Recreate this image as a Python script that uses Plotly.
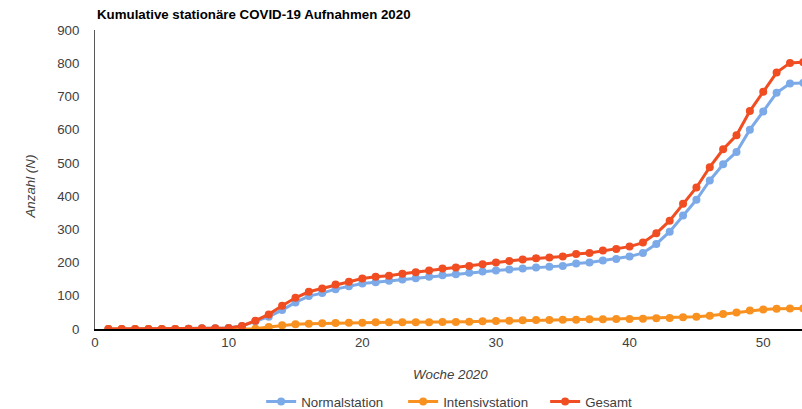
import plotly.graph_objects as go

weeks = list(range(1, 54))

normalstation = [0, 0, 0, 0, 0, 0, 1, 2, 2, 3,
                 9, 23, 37, 57, 80, 99, 108, 120, 129, 137,
                 141, 145, 149, 153, 157, 162, 165, 169, 173, 176,
                 179, 182, 185, 187, 190, 197, 200, 206, 211, 218,
                 229, 256, 293, 342, 389, 447, 496, 533, 600, 655,
                 711, 739, 741]

intensivstation = [0, 0, 0, 0, 0, 0, 0, 0, 0, 0,
                   0, 1, 6, 11, 14, 16, 17, 18, 19, 19,
                   20, 20, 20, 20, 20, 21, 21, 22, 23, 24,
                   25, 26, 27, 27, 28, 28, 29, 29, 30, 30,
                   31, 32, 33, 35, 37, 40, 45, 50, 56, 59,
                   61, 62, 62]

gesamt = [0, 0, 0, 0, 0, 0, 1, 2, 2, 3,
          9, 25, 44, 70, 94, 112, 122, 134, 142, 152,
          157, 160, 166, 171, 176, 182, 185, 190, 195, 200,
          205, 209, 213, 215, 218, 226, 229, 236, 241, 248,
          260, 288, 326, 377, 426, 487, 541, 583, 656, 714,
          772, 801, 803]

series = [
    ("Normalstation", normalstation, "#7caae8"),
    ("Intensivstation", intensivstation, "#f8911f"),
    ("Gesamt", gesamt, "#f04e22"),
]

x_ticks = [0, 10, 20, 30, 40, 50]
y_ticks = [0, 100, 200, 300, 400, 500, 600, 700, 800, 900]

FS = 13.3
GREY = "#404040"

fig = go.Figure()
for name, vals, color in series:
    fig.add_trace(go.Scatter(
        x=weeks, y=vals, name=name, mode="lines+markers",
        line=dict(color=color, width=3),
        marker=dict(color=color, size=8),
    ))

fig.update_layout(
    width=802, height=409,
    margin=dict(l=95, r=0, t=30, b=80, autoexpand=False),
    plot_bgcolor="white", paper_bgcolor="white",
    font=dict(family="Arial, Liberation Sans, sans-serif", color=GREY, size=FS),
    showlegend=True,
    legend=dict(orientation="h", x=0.235, xanchor="left", y=-0.244, yanchor="middle",
                font=dict(size=FS, color=GREY), itemwidth=30,
                entrywidth=97, entrywidthmode="pixels"),
    annotations=[
        dict(text="<b>Kumulative stationäre COVID-19 Aufnahmen 2020</b>",
             xref="paper", yref="paper", x=0.0, y=1.0, yshift=16,
             xanchor="left", yanchor="middle", showarrow=False,
             font=dict(size=FS, color="#000000")),
        dict(text="<i>Woche 2020</i>", xref="paper", yref="paper",
             x=0.503, y=0, yshift=-45, xanchor="center", yanchor="middle",
             showarrow=False, font=dict(size=FS, color=GREY)),
        dict(text="<i>Anzahl (N)</i>", xref="paper", yref="paper",
             x=0, xshift=-65, y=0.5, yshift=-7, xanchor="center", yanchor="middle",
             textangle=-90, showarrow=False, font=dict(size=FS, color=GREY)),
    ],
)

fig.update_xaxes(
    range=[0, 52.9], tickvals=x_ticks, showgrid=False, zeroline=False,
    showline=True, linecolor="#000000", linewidth=1.5,
    ticks="", tickfont=dict(size=FS, color=GREY),
)
fig.update_yaxes(
    range=[0, 900], tickvals=y_ticks, showgrid=False, zeroline=False,
    showline=True, linecolor="#595959", linewidth=1,
    ticks="", ticklabelstandoff=12,
    tickfont=dict(size=FS, color=GREY),
)

fig.write_html("out.html", config={"displayModeBar": False},
               post_script="document.body.style.margin='0';")
